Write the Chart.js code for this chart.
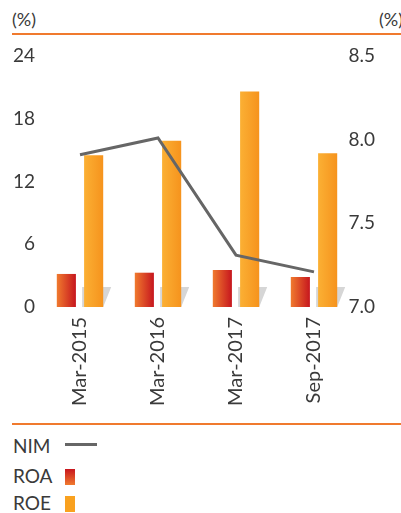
<!DOCTYPE html>
<html>
<head>
<meta charset="utf-8">
<script src="https://cdn.jsdelivr.net/npm/chart.js@4"></script>
<style>
  html, body { margin: 0; padding: 0; background: #fff; }
  #wrap { position: relative; width: 401px; height: 513px; font-family: Lato, sans-serif; color: #3a3a3a; }
  #chart { position: absolute; left: 0; top: 0; }
  .unit { position: absolute; top: 8px; font-size: 18px; }
  .rule { position: absolute; left: 12px; right: 0; height: 2px; background: #f07a2e; }
  .leg { position: absolute; left: 13px; font-size: 19px; line-height: 20px; }
  .sw { position: absolute; }
</style>
</head>
<body>
<div id="wrap">
  <div class="unit" style="left:12px">(%)</div>
  <div class="unit" style="left:379px">(%)</div>
  <div class="rule" style="top:33px"></div>
  <canvas id="chart" width="401" height="420"></canvas>
  <div class="rule" style="top:423px"></div>
  <div class="leg" style="top:436px">NIM</div>
  <div class="sw" style="left:65px;top:443px;width:32px;height:3px;background:#666"></div>
  <div class="leg" style="top:466px">ROA</div>
  <div class="sw" style="left:65px;top:469px;width:10px;height:16px;background:linear-gradient(#c8161e,#f07a2e)"></div>
  <div class="leg" style="top:493px">ROE</div>
  <div class="sw" style="left:65px;top:496px;width:10px;height:16px;background:#f9a11f"></div>
</div>
<script>
const periods = ["Mar-2015", "Mar-2016", "Mar-2017", "Sep-2017"]
const nim = [7.91, 8.01, 7.31, 7.21]
const roa = [3.16, 3.28, 3.54, 2.87]
const roe = [14.5, 15.9, 20.6, 14.7]
const leftTicks = [0, 6, 12, 18, 24]
const rightTicks = [7.0, 7.5, 8.0, 8.5]

const CAT_PCT = 0.7
const BAR_PCT = 0.7

// horizontal gradient across one bar, worked out from the category scale
function barGradient(ctx, slot, from, to) {
  const chart = ctx.chart
  const x = chart.scales.x
  if (!x || !chart.chartArea) return to
  const catW = (x.right - x.left) / periods.length
  const slotW = catW * CAT_PCT / 2
  const barW = slotW * BAR_PCT
  const cx = x.getPixelForValue(ctx.dataIndex) + (slot === 0 ? -slotW / 2 : slotW / 2)
  const g = chart.ctx.createLinearGradient(cx - barW / 2, 0, cx + barW / 2, 0)
  g.addColorStop(0, from)
  g.addColorStop(1, to)
  return g
}

// grey slanted shadow at the foot of each ROE bar
const barShadow = {
  id: "barShadow",
  beforeDatasetsDraw(chart) {
    const meta = chart.getDatasetMeta(2)
    const c = chart.ctx
    c.save()
    c.fillStyle = "#d6d6d6"
    meta.data.forEach(bar => {
      const l = bar.x - bar.width / 2
      const r = bar.x + bar.width / 2
      const b = bar.base
      c.beginPath()
      c.moveTo(l - 2, b - 20)
      c.lineTo(r + 8, b - 20)
      c.lineTo(r, b)
      c.lineTo(l - 2, b)
      c.closePath()
      c.fill()
    })
    c.restore()
  }
}

const tickFont = { family: "Lato", size: 19 }

new Chart(document.getElementById("chart"), {
  data: {
    labels: periods,
    datasets: [
      {
        type: "line",
        label: "NIM",
        data: nim,
        yAxisID: "y2",
        borderColor: "#666666",
        borderWidth: 3,
        pointRadius: 0,
        tension: 0,
        order: 0,
      },
      {
        type: "bar",
        label: "ROA",
        data: roa,
        yAxisID: "y",
        backgroundColor: ctx => barGradient(ctx, 0, "#f07a2e", "#c6161e"),
        categoryPercentage: CAT_PCT,
        barPercentage: BAR_PCT,
        order: 1,
      },
      {
        type: "bar",
        label: "ROE",
        data: roe,
        yAxisID: "y",
        backgroundColor: ctx => barGradient(ctx, 1, "#fbb034", "#f6931d"),
        categoryPercentage: CAT_PCT,
        barPercentage: BAR_PCT,
        order: 1,
      },
    ],
  },
  options: {
    responsive: false,
    animation: false,
    layout: { padding: { top: 56, left: 0, right: 0, bottom: 0 } },
    plugins: {
      legend: { display: false },
      tooltip: { enabled: false },
    },
    scales: {
      x: {
        grid: { display: false, drawTicks: false },
        border: { display: false },
        ticks: {
          color: "#3a3a3a",
          font: { family: "Lato", size: 20 },
          minRotation: 90,
          maxRotation: 90,
          padding: 10,
        },
        afterFit(scale) { scale.height = 113 },
      },
      y: {
        position: "left",
        min: 0,
        max: 24,
        grid: { display: false, drawTicks: false },
        border: { display: false },
        afterBuildTicks(scale) { scale.ticks = leftTicks.map(v => ({ value: v })) },
        ticks: { color: "#3a3a3a", font: tickFont, padding: 6 },
        afterFit(scale) { scale.width = 41 },
      },
      y2: {
        position: "right",
        min: 7,
        max: 8.5,
        grid: { display: false, drawTicks: false },
        border: { display: false },
        afterBuildTicks(scale) { scale.ticks = rightTicks.map(v => ({ value: v })) },
        ticks: {
          color: "#3a3a3a",
          font: tickFont,
          mirror: true,
          padding: 22,
          callback: v => Number(v).toFixed(1),
        },
        afterFit(scale) { scale.width = 48 },
      },
    },
  },
  plugins: [barShadow],
})
</script>
</body>
</html>
